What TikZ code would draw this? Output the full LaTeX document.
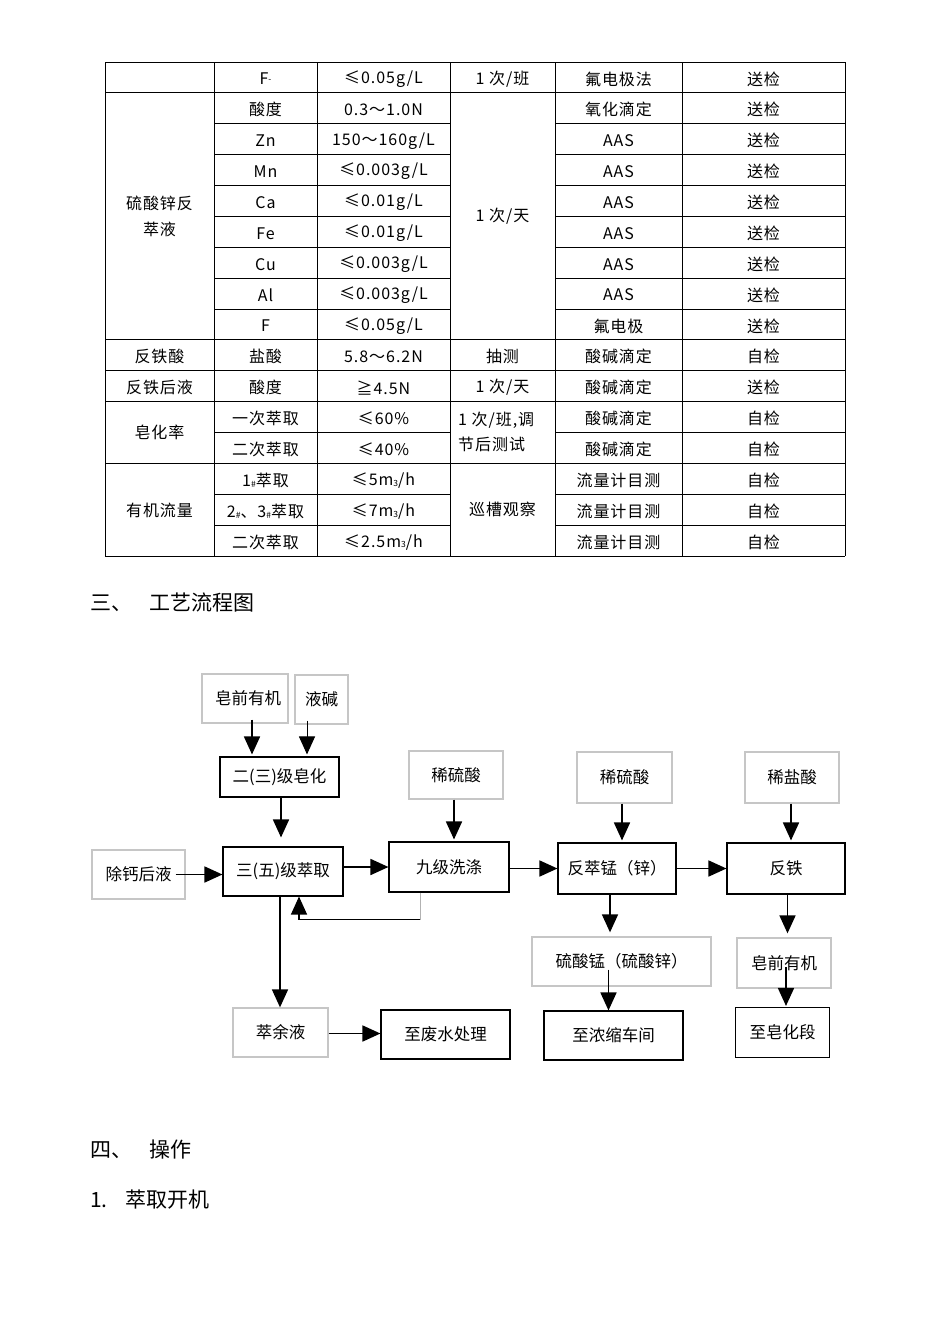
\documentclass[tikz,border=0pt]{standalone}
\usepackage{fontspec}
\setmainfont{Noto Sans CJK SC}
\newfontfamily\tabfont[LetterSpace=6]{Noto Sans CJK SC}
\usetikzlibrary{arrows.meta,calc}
\newcount\cellno
\newcommand\smallsub[1]{\raisebox{-0.1ex}{\fontsize{8.5}{8.5}\selectfont #1}}
\newcommand\cellt[3]{\global\advance\cellno by 1
  \node[tcell] (cell\the\cellno) at (#1,{62+30.875*(#2+0.5)+1.5}) {#3};}
\tikzset{
 tline/.style={line width=0.9pt},
 tcell/.style={font=\tabfont\fontsize{16}{18}\selectfont, inner sep=0pt, anchor=center},
 gbox/.style={draw=gray!45, line width=1.3pt, inner sep=0pt, font=\fontsize{16.5}{19}\selectfont},
 kbox/.style={draw=black, line width=1.1pt, inner sep=0pt, font=\fontsize{16.5}{19}\selectfont},
 arr/.style={line width=1.7pt, -{Triangle[width=16pt,length=18pt]}},
 heading/.style={font=\fontsize{21}{24}\selectfont, anchor=west, inner sep=0pt},
}
\begin{document}
\begin{tikzpicture}[x=1pt,y=-1pt]
\useasboundingbox[fill=white] (0,0) rectangle (950,1344);
% ---------------- table ----------------
\def\cA{105}\def\cB{214}\def\cC{317}\def\cD{450}\def\cE{555}\def\cF{682}\def\cG{845}
\foreach \i in {0,1,9,10,11,13,16}{
  \draw[tline] (\cA,{62+30.875*\i}) -- (\cG,{62+30.875*\i});
}
\foreach \i in {2,...,8,12,14,15}{
  \draw[tline] (\cB,{62+30.875*\i}) -- (\cD,{62+30.875*\i});
  \draw[tline] (\cE,{62+30.875*\i}) -- (\cG,{62+30.875*\i});
}
\foreach \c in {\cA,\cB,\cC,\cD,\cE,\cF,\cG}{
  \draw[tline] (\c,62) -- (\c,556);
}
% column centres
\def\xa{159.5}\def\xb{265.5}\def\xc{383.5}\def\xd{502.5}\def\xe{618.5}\def\xf{763.5}
% row 0
\cellt{\xb}{0}{F\raisebox{0.25ex}{\fontsize{8.5}{8.5}\selectfont -}}
\cellt{\xc}{0}{≤0.05g/L}
\cellt{\xd}{0}{1 次/班}
\cellt{\xe}{0}{氟电极法}
\cellt{\xf}{0}{送检}
% rows 1-8
\node[tcell, align=center, font=\tabfont\fontsize{16}{26}\selectfont] (zinc) at (\xa,216) {硫酸锌反\\萃液};
\node[tcell] (freqday) at (\xd,216) {1 次/天};
\cellt{\xb}{1}{酸度}
\cellt{\xb}{2}{Zn}
\cellt{\xb}{3}{Mn}
\cellt{\xb}{4}{Ca}
\cellt{\xb}{5}{Fe}
\cellt{\xb}{6}{Cu}
\cellt{\xb}{7}{Al}
\cellt{\xb}{8}{F}
\cellt{\xc}{1}{0.3～1.0N}
\cellt{\xc}{2}{150～160g/L}
\cellt{\xc}{3}{≤0.003g/L}
\cellt{\xc}{4}{≤0.01g/L}
\cellt{\xc}{5}{≤0.01g/L}
\cellt{\xc}{6}{≤0.003g/L}
\cellt{\xc}{7}{≤0.003g/L}
\cellt{\xc}{8}{≤0.05g/L}
\cellt{\xe}{1}{氧化滴定}
\foreach \r in {2,...,7}{ \cellt{\xe}{\r}{AAS} }
\cellt{\xe}{8}{氟电极}
\foreach \r in {1,...,8}{ \cellt{\xf}{\r}{送检} }
% row 9
\cellt{\xa}{9}{反铁酸}
\cellt{\xb}{9}{盐酸}
\cellt{\xc}{9}{5.8～6.2N}
\cellt{\xd}{9}{抽测}
\cellt{\xe}{9}{酸碱滴定}
\cellt{\xf}{9}{自检}
% row 10
\cellt{\xa}{10}{反铁后液}
\cellt{\xb}{10}{酸度}
\cellt{\xc}{10}{≧4.5N}
\cellt{\xd}{10}{1 次/天}
\cellt{\xe}{10}{酸碱滴定}
\cellt{\xf}{10}{送检}
% rows 11-12
\node[tcell] (saponrate) at (\xa,432) {皂化率};
\node[tcell, anchor=west, align=left, font=\tabfont\fontsize{16}{25}\selectfont] (adjust) at (458,431.5) {1 次/班,调\\节后测试};
\cellt{\xb}{11}{一次萃取}
\cellt{\xb}{12}{二次萃取}
\cellt{\xc}{11}{≤60\%}
\cellt{\xc}{12}{≤40\%}
\cellt{\xe}{11}{酸碱滴定}
\cellt{\xe}{12}{酸碱滴定}
\cellt{\xf}{11}{自检}
\cellt{\xf}{12}{自检}
% rows 13-15
\node[tcell] (orgflow) at (\xa,510) {有机流量};
\node[tcell] (patrol) at (\xd,509) {巡槽观察};
\cellt{\xb}{13}{1\smallsub{\#}萃取}
\cellt{\xb}{14}{2\smallsub{\#}、3\smallsub{\#}萃取}
\cellt{\xb}{15}{二次萃取}
\cellt{\xc}{13}{≤5m\smallsub{3}/h}
\cellt{\xc}{14}{≤7m\smallsub{3}/h}
\cellt{\xc}{15}{≤2.5m\smallsub{3}/h}
\foreach \r in {13,14,15}{ \cellt{\xe}{\r}{流量计目测} }
\foreach \r in {13,14,15}{ \cellt{\xf}{\r}{自检} }
% ---------------- headings ----------------
\node[heading] (h3a) at (90,603) {三、};
\node[heading] (h3b) at (149,603) {工艺流程图};
\node[heading] (h4a) at (90,1150) {四、};
\node[heading] (h4b) at (149,1150) {操作};
\node[heading] (h5a) at (90,1200) {1.};
\node[heading] (h5b) at (125,1200) {萃取开机};
% ---------------- flow chart ----------------
\node[gbox, minimum width=86, minimum height=49] (zq1) at (245,698.5) {\hspace*{6pt}皂前有机};
\node[gbox, minimum width=53, minimum height=49] (yj) at (321.5,699.5) {液碱};
\node[kbox, minimum width=119, minimum height=40] (ej) at (279.5,777) {二(三)级皂化};
\node[kbox, minimum width=120, minimum height=49] (sw) at (283,871.5) {三(五)级萃取};
\node[gbox, minimum width=93, minimum height=49] (cg) at (138.5,874.5) {除钙后液};
\node[kbox, minimum width=120, minimum height=50] (jj) at (449,867) {九级洗涤};
\node[gbox, minimum width=94, minimum height=48] (xl1) at (456,775) {稀硫酸};
\node[gbox, minimum width=95, minimum height=51] (xl2) at (624.5,777.5) {稀硫酸};
\node[gbox, minimum width=94, minimum height=51] (xy) at (792,777.5) {稀盐酸};
\node[kbox, minimum width=118, minimum height=51] (fc) at (617,868.5) {反萃锰（锌）};
\node[kbox, minimum width=118, minimum height=51] (ft) at (786,868.5) {反铁};
\node[gbox, minimum width=179, minimum height=49] (lm) at (621.5,961.5) {硫酸锰（硫酸锌）};
\node[gbox, minimum width=94, minimum height=50] (zq2) at (784,963) {皂前有机};
\node[kbox, minimum width=139, minimum height=49] (zn) at (613.5,1035.5) {至浓缩车间};
\node[kbox, minimum width=94, minimum height=50] (zz) at (782.5,1032.5) {至皂化段};
\node[gbox, minimum width=95, minimum height=49] (cy) at (280.5,1032.5) {萃余液};
\node[kbox, minimum width=129, minimum height=49] (fs) at (445.5,1034.5) {至废水处理};
% connectors
\draw[arr] ([xshift=7pt,yshift=4pt]zq1.south) -- ([xshift=7pt,yshift=2pt]zq1.south |- ej.north);
\draw[arr, line width=1pt] ([xshift=-14.5pt,yshift=4pt]yj.south) -- ([xshift=-14.5pt,yshift=2pt]yj.south |- ej.north);
\draw[arr] ([xshift=1.5pt]ej.south) -- ([xshift=1.5pt,yshift=9pt]ej.south |- sw.north);
\draw[arr] ([xshift=-10pt]cg.east) -- (cg.east -| sw.west);
\draw[arr] ([yshift=4.5pt]sw.east) -- ([yshift=4.5pt]sw.east -| jj.west);
\draw[arr] ([xshift=-2pt]xl1.south) -- ([xshift=-2pt,yshift=2pt]xl1.south |- jj.north);
\draw[arr] (jj.east |- fc.east) -- (fc.west);
\draw[arr] ([xshift=-2.5pt]xl2.south) -- ([xshift=-2.5pt,yshift=2pt]xl2.south |- fc.north);
\draw[arr] (fc.east) -- (fc.east -| ft.west);
\draw[arr] ([xshift=-1pt]xy.south) -- ([xshift=-1pt,yshift=2pt]xy.south |- ft.north);
\draw[arr] ([xshift=-7pt]fc.south) -- ([xshift=-7pt,yshift=4pt]fc.south |- lm.north);
\draw[arr] ([xshift=1.5pt]ft.south) -- ([xshift=1.5pt,yshift=4pt]ft.south |- zq2.north);
\coordinate (lmin) at ([xshift=-13pt,yshift=-8pt]lm.center);
\draw[arr] (lmin) -- (lmin |- zn.north);
\coordinate (zqin) at ([xshift=2pt,yshift=-4pt]zq2.center);
\draw[arr] (zqin) -- ([yshift=1pt]zqin |- zz.north);
\draw[arr] ([xshift=-3pt]sw.south) -- ([xshift=-3pt]sw.south |- cy.north);
\draw[arr] ([yshift=-1pt]cy.east) -- ([yshift=-1pt]cy.east -| fs.west);
% feedback loop
\coordinate (fbA) at ([xshift=-29pt]jj.south);
\coordinate (fbB) at ([yshift=-27pt]fbA);
\coordinate (swx) at ([xshift=16pt]sw.south);
\coordinate (fbC) at (fbB -| swx);
\draw[gray!60, line width=0.9pt] (fbA) -- (fbB);
\draw[line width=1.2pt] (fbB) -- (fbC);
\draw[arr, line width=1.2pt] (fbC) -- (fbC |- sw.south);
\end{tikzpicture}
\end{document}
